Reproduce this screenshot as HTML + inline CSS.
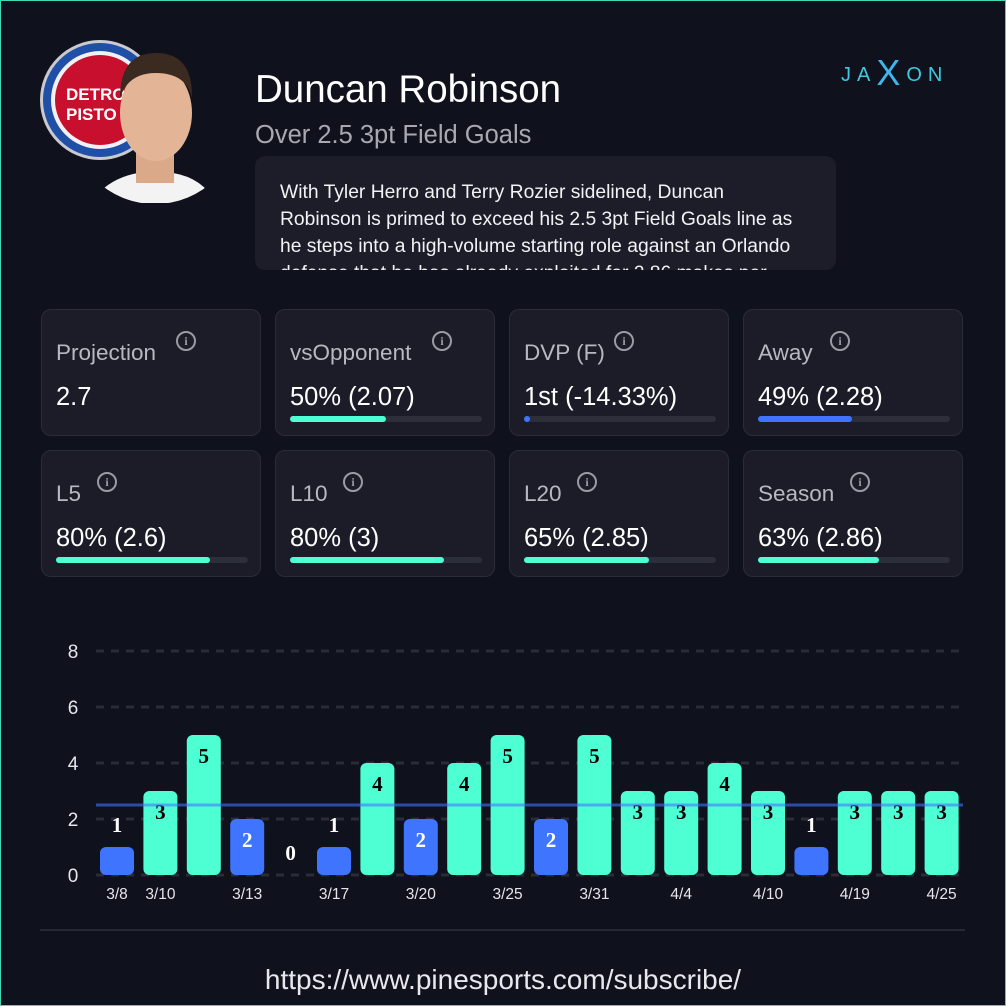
<!DOCTYPE html><html><head><style>
body{margin:0;width:1006px;height:1006px;background:#0f111c;font-family:"Liberation Sans",sans-serif;overflow:hidden;position:relative}
.frame{position:absolute;left:0;top:0;width:1004px;height:1004px;border:1px solid #3fd9b8}
.abs{position:absolute}
.card{position:absolute;width:220px;height:127px;background:#1b1c28;border:1px solid #2a2c38;border-radius:10px;box-sizing:border-box}
.card .t{position:absolute;left:14px;top:30px;font-size:22.5px;color:#b8b9c0}
.card .i{position:absolute;top:21px;width:16px;height:16px;border:2px solid #9a9ba3;border-radius:50%;color:#9a9ba3;font-size:12px;font-weight:bold;text-align:center;line-height:16px;font-family:"Liberation Serif",serif}
.card .v{position:absolute;left:14px;top:73px;font-size:25.5px;color:#fff}
.card .tr{position:absolute;left:14px;top:106px;width:192px;height:6px;border-radius:3px;background:#2c2e3a}
.card .f{height:6px;border-radius:3px;background:#4effd4}
</style></head><body>
<div class="frame"></div>
<svg class="abs" style="left:38px;top:38px" width="180" height="165">
<circle cx="62" cy="62" r="60" fill="#c9c9cf"/><circle cx="62" cy="62" r="57" fill="#1f4fa6"/><circle cx="62" cy="62" r="49" fill="#f1f1f4"/><circle cx="62" cy="62" r="45" fill="#c8102e"/>
<text x="28" y="62" font-family="Liberation Sans" font-weight="bold" font-size="17" fill="#fff">DETRO</text>
<text x="28" y="82" font-family="Liberation Sans" font-weight="bold" font-size="17" fill="#fff">PISTO</text>
<clipPath id="c"><circle cx="117" cy="80" r="86"/></clipPath>
<g clip-path="url(#c)">
<path d="M52 165 Q70 140 100 135 L135 135 Q165 140 178 165Z" fill="#f3f3f3"/>
<rect x="98" y="110" width="38" height="35" fill="#d9a98a"/>
<ellipse cx="118" cy="75" rx="36" ry="48" fill="#e3b496"/>
<path d="M82 60 Q82 15 118 15 Q155 15 154 60 Q148 35 118 35 Q90 35 82 60Z" fill="#3a2a20"/>
</g></svg>
<div class="abs" style="left:255px;top:68px;font-size:38.5px;color:#fff">Duncan Robinson</div>
<div class="abs" style="left:255px;top:121px;font-size:25.5px;color:#a8a9b0">Over 2.5 3pt Field Goals</div>
<div class="abs" style="left:841px;top:48px;font-size:20px;letter-spacing:6px;color:#3fc9e0">JA<span style="font-size:36px;color:#3fb5ee;position:relative;top:4px">X</span>ON</div>
<div class="abs" style="left:255px;top:156px;width:581px;height:114px;background:#1c1d29;border-radius:10px;overflow:hidden">
<div style="position:absolute;left:25px;top:23px;width:530px;font-size:19.3px;line-height:27px;color:#f2f2f4">With Tyler Herro and Terry Rozier sidelined, Duncan Robinson is primed to exceed his 2.5 3pt Field Goals line as he steps into a high-volume starting role against an Orlando defense that he has already exploited for 2.86 makes per</div></div>

<div class="card" style="left:41px;top:309px"><div class="t">Projection</div><div class="i" style="left:134px">i</div><div class="v">2.7</div></div>
<div class="card" style="left:275px;top:309px"><div class="t">vsOpponent</div><div class="i" style="left:156px">i</div><div class="v">50% (2.07)</div><div class="tr"><div class="f" style="width:96px"></div></div></div>
<div class="card" style="left:509px;top:309px"><div class="t">DVP (F)</div><div class="i" style="left:104px">i</div><div class="v">1st (-14.33%)</div><div class="tr"><div class="f" style="width:6px;background:#3f74ff"></div></div></div>
<div class="card" style="left:743px;top:309px"><div class="t">Away</div><div class="i" style="left:86px">i</div><div class="v">49% (2.28)</div><div class="tr"><div class="f" style="width:94px;background:#3f74ff"></div></div></div>
<div class="card" style="left:41px;top:450px"><div class="t">L5</div><div class="i" style="left:55px">i</div><div class="v">80% (2.6)</div><div class="tr"><div class="f" style="width:154px"></div></div></div>
<div class="card" style="left:275px;top:450px"><div class="t">L10</div><div class="i" style="left:67px">i</div><div class="v">80% (3)</div><div class="tr"><div class="f" style="width:154px"></div></div></div>
<div class="card" style="left:509px;top:450px"><div class="t">L20</div><div class="i" style="left:67px">i</div><div class="v">65% (2.85)</div><div class="tr"><div class="f" style="width:125px"></div></div></div>
<div class="card" style="left:743px;top:450px"><div class="t">Season</div><div class="i" style="left:106px">i</div><div class="v">63% (2.86)</div><div class="tr"><div class="f" style="width:121px"></div></div></div>

<svg class="abs" style="left:0;top:0" width="1006" height="1006" id="ch"></svg>
<div class="abs" style="left:40px;top:929px;width:925px;height:2px;background:#262835"></div>
<div class="abs" style="left:0;top:964px;width:1006px;text-align:center;font-size:28px;color:#e8e8ec">https://www.pinesports.com/subscribe/</div>
<script>
(function(){
var s='',v=[1,3,5,2,0,1,4,2,4,5,2,5,3,3,4,3,1,3,3,3],d={0:'3/8',1:'3/10',3:'3/13',5:'3/17',7:'3/20',9:'3/25',11:'3/31',13:'4/4',15:'4/10',17:'4/19',19:'4/25'};
for(var k=0;k<=8;k+=2){var y=875-28*k;s+='<line x1="96" y1="'+y+'" x2="963" y2="'+y+'" stroke="#2a2c38" stroke-width="3" stroke-dasharray="8 7"/><text x="73" y="'+(y+7)+'" fill="#e6e6ea" font-size="19" text-anchor="middle" font-family="Liberation Sans">'+k+'</text>';}
for(var i=0;i<20;i++){var cx=117+i*43.4,h=v[i]*28,bt=875-h,c=v[i]>2.5?'#4effd4':'#3f74ff';
if(h>0)s+='<rect x="'+(cx-17)+'" y="'+bt+'" width="34" height="'+h+'" rx="6" fill="'+c+'"/>';
var ty=v[i]<=1?bt-15:bt+28,tc=v[i]>2.5?'#000':'#fff';
s+='<text x="'+cx+'" y="'+ty+'" fill="'+tc+'" font-size="21" font-weight="bold" text-anchor="middle" font-family="Liberation Serif">'+v[i]+'</text>';
if(d[i])s+='<text x="'+cx+'" y="899" fill="#e6e6ea" font-size="15.5" text-anchor="middle" font-family="Liberation Sans">'+d[i]+'</text>';}
s+='<line x1="96" y1="805" x2="963" y2="805" stroke="#3f74ff" stroke-opacity="0.6" stroke-width="3"/>';
document.getElementById('ch').innerHTML=s;
})();
</script>
</body></html>
